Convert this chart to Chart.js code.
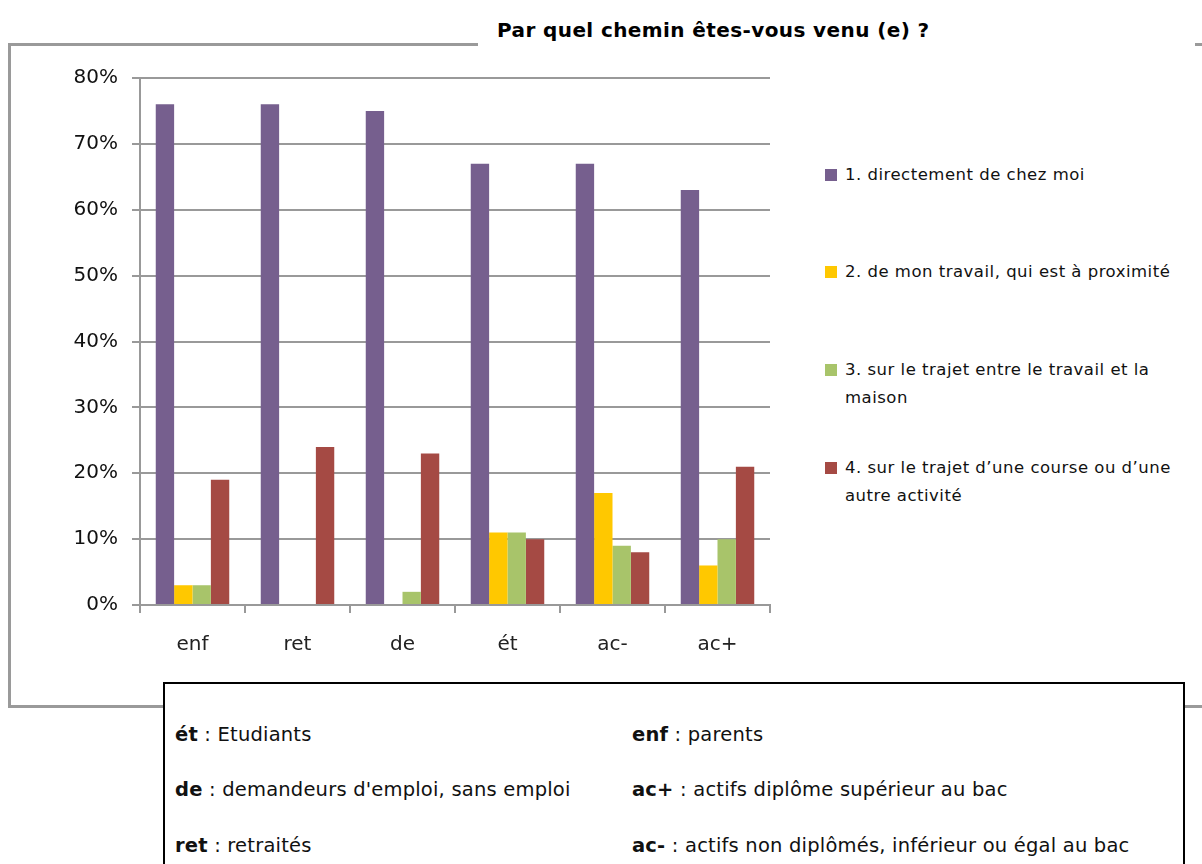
<!DOCTYPE html>
<html>
<head>
<meta charset="utf-8">
<script src="https://cdn.jsdelivr.net/npm/chart.js@4"></script>
<style>
  body { margin: 0; background: #fff; width: 1202px; height: 864px; overflow: hidden; position: relative; font-family: "DejaVu Sans", sans-serif; }
  #frame { position: absolute; left: 8px; top: 43px; width: 1220px; height: 659px; border: 3px solid #9a9a9a; }
  #title { position: absolute; left: 478px; top: 10px; width: 717px; height: 40px; background: #fff; }
  #title span { position: absolute; left: 19px; top: 8px; font-weight: bold; font-size: 20px; letter-spacing: 0.4px; color: #000; white-space: nowrap; }
  #wrap { position: absolute; left: 0; top: 0; width: 790px; height: 680px; }
  #legend { position: absolute; left: 825px; top: 0; width: 377px; }
  .item { position: absolute; left: 0; width: 377px; }
  .item i { position: absolute; left: 0; top: 8px; width: 12px; height: 12px; }
  .item span { display: block; margin-left: 20px; font-size: 16.5px; line-height: 28px; color: #111; letter-spacing: 0.5px; }
  #notes { position: absolute; left: 163px; top: 682px; width: 1018px; height: 220px; border: 2px solid #000; background: #fff; }
  .note { position: absolute; font-size: 19.5px; letter-spacing: 0.2px; color: #111; white-space: nowrap; }
  .note b { font-weight: bold; }
</style>
</head>
<body>
<div id="frame"></div>
<div id="title"><span>Par quel chemin êtes-vous venu (e) ?</span></div>
<div id="wrap"><canvas id="chart" width="790" height="680"></canvas></div>
<div id="legend"></div>
<div id="notes"></div>
<script>
const categories = ["enf", "ret", "de", "ét", "ac-", "ac+"];
const seriesNames = [
  "1. directement de chez moi",
  "2. de mon travail,  qui est à proximité",
  "3. sur le trajet entre le travail et la maison",
  "4. sur le trajet d’une course ou d’une autre activité"
];
const directement = [76, 76, 75, 67, 67, 63];
const travail = [3, 0, 0, 11, 17, 6];
const trajetTravail = [3, 0, 2, 11, 9, 10];
const trajetCourse = [19, 24, 23, 10, 8, 21];
const seriesColors = ["#765f8e", "#ffc800", "#a8c46a", "#a54a44"];
const yTicks = [0, 10, 20, 30, 40, 50, 60, 70, 80];

const notesLeft = [["ét", "Etudiants"], ["de", "demandeurs d'emploi, sans emploi"], ["ret", "retraités"]];
const notesRight = [["enf", "parents"], ["ac+", "actifs diplôme supérieur au bac"], ["ac-", "actifs non diplômés, inférieur ou égal au bac"]];

const values = [directement, travail, trajetTravail, trajetCourse];
const grey = "#999999";

const chart = new Chart(document.getElementById("chart").getContext("2d"), {
  type: "bar",
  data: {
    labels: categories,
    datasets: values.map((v, i) => ({
      label: seriesNames[i],
      data: v,
      backgroundColor: seriesColors[i],
      borderWidth: 0,
      categoryPercentage: 0.7,
      barPercentage: 1.0
    }))
  },
  options: {
    responsive: false,
    animation: false,
    layout: { padding: { top: 78, right: 20, left: 0, bottom: 0 } },
    plugins: { legend: { display: false }, tooltip: { enabled: false } },
    scales: {
      x: {
        grid: { offset: true, drawOnChartArea: false, drawTicks: true, tickLength: 8, color: grey, lineWidth: 2 },
        border: { color: grey, width: 2 },
        ticks: { color: "#222", font: { family: "DejaVu Sans", size: 20 }, padding: 20 },
        afterFit: (s) => { s.height = 75; }
      },
      y: {
        min: 0, max: 80,
        afterBuildTicks: (s) => { s.ticks = yTicks.map(v => ({ value: v })); },
        grid: { color: grey, lineWidth: 2, tickLength: 8 },
        border: { color: grey, width: 2 },
        ticks: { color: "#111", font: { family: "DejaVu Sans", size: 20 }, padding: 14, callback: (v) => v + "%" },
        afterFit: (s) => { s.width = 140; }
      }
    }
  }
});

// légende à droite
const legendTops = [161, 258, 356, 454];
const legend = document.getElementById("legend");
seriesNames.forEach((name, i) => {
  const d = document.createElement("div");
  d.className = "item";
  d.style.top = legendTops[i] + "px";
  d.innerHTML = `<i style="background:${seriesColors[i]}"></i><span>${name}</span>`;
  legend.appendChild(d);
});

// encadré des abréviations
const notes = document.getElementById("notes");
const rowTops = [39, 94, 150];
[[notesLeft, 10], [notesRight, 467]].forEach(([list, x]) => {
  list.forEach(([k, txt], r) => {
    const d = document.createElement("div");
    d.className = "note";
    d.style.left = x + "px";
    d.style.top = rowTops[r] + "px";
    d.innerHTML = `<b>${k}</b> : ${txt}`;
    notes.appendChild(d);
  });
});
</script>
</body>
</html>
